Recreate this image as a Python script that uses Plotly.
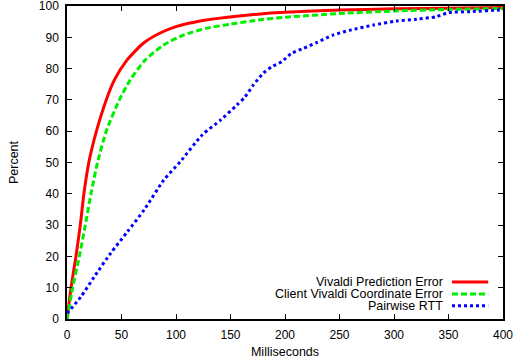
import plotly.graph_objects as go

# Vivaldi Prediction Error (CDF)
red_ms = [0, 3.7, 8.2, 12.2, 15.5, 20, 27, 36, 43.5, 55, 70, 85, 100, 122, 147, 175, 200, 250, 300, 350, 400]
red_pct = [0, 10, 20, 30, 40, 50, 60, 70, 76.4, 82.7, 88.1, 91.3, 93.4, 95.2, 96.4, 97.4, 98.0, 98.7, 99.1, 99.3, 99.5]

# Client Vivaldi Coordinate Error (CDF)
green_ms = [0, 5.2, 11.3, 16.8, 22, 28, 36, 48, 58, 71.6, 88.4, 106.7, 128, 150, 175, 200, 250, 300, 350, 400]
green_pct = [0, 10, 20, 30, 40, 50, 60, 70, 76.4, 82.7, 87.5, 90.7, 92.9, 94.2, 95.5, 96.4, 97.6, 98.4, 98.9, 99.2]

# Pairwise RTT (CDF)
blue_ms = [0, 12.8, 25, 40, 55.5, 71, 88.8, 104, 124, 141, 156, 163, 171, 180, 188, 197, 206, 217, 229, 244, 260, 281, 302, 321, 339, 350, 370, 397, 400]
blue_pct = [1.8, 7.1, 13.5, 21, 27.9, 35, 44.4, 50.3, 58.8, 63.6, 68.4, 70.8, 74.8, 78.5, 80.6, 82.2, 84.9, 86.5, 88.3, 90.7, 92.3, 93.9, 95.2, 95.8, 96.6, 97.9, 98.2, 98.7, 98.7]

x_ticks = [0, 50, 100, 150, 200, 250, 300, 350, 400]
y_ticks = [0, 10, 20, 30, 40, 50, 60, 70, 80, 90, 100]

series_names = ["Vivaldi Prediction Error", "Client Vivaldi Coordinate Error", "Pairwise RTT"]
series_colors = ["#ff0000", "#00ee00", "#0000ff"]
series_dash = ["solid", "6px,3px", "3px,3px"]

FONT = "Liberation Sans, Arial, Helvetica, sans-serif"

fig = go.Figure()
data = [(red_ms, red_pct), (green_ms, green_pct), (blue_ms, blue_pct)]
for (xs, ys), name, col, dash in zip(data, series_names, series_colors, series_dash):
    fig.add_trace(go.Scatter(x=xs, y=ys, mode="lines", name=name,
                             line=dict(color=col, width=3, dash=dash, shape="spline", smoothing=0.6),
                             showlegend=False, hoverinfo="skip"))

# gnuplot-style legend: text right-aligned, sample line to the right
legend_y = [0.118, 0.080, 0.042]
for name, col, dash, ly in zip(series_names, series_colors, series_dash, legend_y):
    fig.add_annotation(x=0.865, y=ly, xref="paper", yref="paper", text=name,
                       showarrow=False, xanchor="right", yanchor="middle", borderpad=0,
                       font=dict(family=FONT, size=12.5, color="#000000"))
    fig.add_shape(type="line", xref="paper", yref="paper", x0=0.883, x1=0.966, y0=ly, y1=ly,
                  line=dict(color=col, width=3, dash=dash))

axis_common = dict(showgrid=False, zeroline=False, showline=True, linecolor="#000000", linewidth=1.5,
                   mirror="allticks", ticks="inside", ticklen=5, tickcolor="#000000", tickwidth=1,
                   automargin=False, ticklabeloverflow="allow",
                   tickfont=dict(family=FONT, size=12, color="#000000"))

fig.update_xaxes(range=[0, 400], tickvals=x_ticks, ticktext=[str(v) for v in x_ticks],
                 title=dict(text="Milliseconds", standoff=6, font=dict(family=FONT, size=12.5, color="#000000")),
                 ticklabelstandoff=4, **axis_common)
fig.update_yaxes(range=[0, 100], tickvals=y_ticks, ticktext=[str(v) for v in y_ticks],
                 title=dict(text="Percent", standoff=17, font=dict(family=FONT, size=12.5, color="#000000")),
                 ticklabelstandoff=4, **axis_common)

fig.update_layout(width=515, height=362, margin=dict(l=67, r=12, t=6, b=43),
                  paper_bgcolor="#ffffff", plot_bgcolor="#ffffff",
                  font=dict(family=FONT, size=12, color="#000000"))

fig.write_html("out.html", config={"displayModeBar": False},
               post_script="document.body.style.margin='0';")
